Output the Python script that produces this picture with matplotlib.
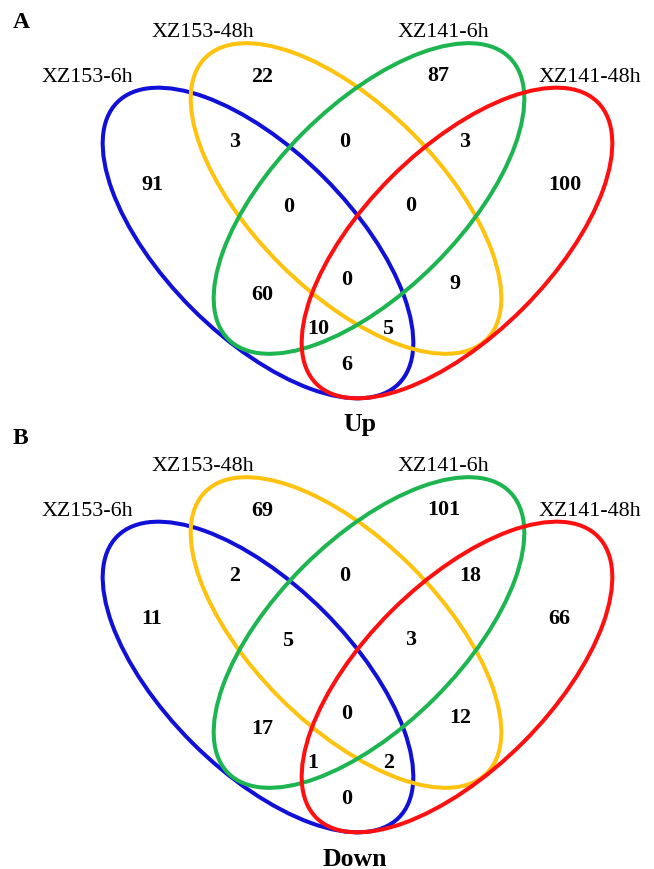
import matplotlib
matplotlib.use("Agg")
import matplotlib.pyplot as plt
from matplotlib.patches import Ellipse

# ---------------- data ----------------
set_labels = ["XZ153-6h", "XZ153-48h", "XZ141-6h", "XZ141-48h"]
set_colors = ["#1010d8", "#ffc20e", "#1db550", "#ff1010"]
panel_letters = ["A", "B"]
panel_titles = ["Up", "Down"]

# region order:
# S1, S2, S3, S4, S1&S2, S2&S3, S3&S4, S1&S2&S3, S2&S3&S4,
# S1&S3, all, S2&S4, S1&S3&S4, S1&S2&S4, S1&S4
up_counts = [91, 22, 87, 100, 3, 0, 3, 0, 0, 60, 0, 9, 10, 5, 6]
down_counts = [11, 69, 101, 66, 2, 0, 18, 5, 3, 17, 0, 12, 1, 2, 0]
panel_counts = [up_counts, down_counts]

# ---------------- layout (pixel coords, y down) ----------------
region_pos = [(141, 183), (251, 75), (427, 74), (548, 183),
              (229, 140), (339, 140), (459, 140),
              (283, 205), (405, 204),
              (251, 293), (341, 278), (449, 282),
              (307, 327), (383, 327), (341, 363)]
ell_centers = [(258, 244), (346, 199.5), (369, 199.5), (457, 244)]
ell_angles = [45, 45, -45, -45]
ell_w, ell_h = 398, 186
label_pos = [(42, 82), (152, 37), (398, 37), (539, 82)]
panel_offset = [0, 434]

fig = plt.figure(figsize=(6.54, 8.70), dpi=100)
ax = fig.add_axes([0, 0, 1, 1])
ax.set_xlim(0, 654)
ax.set_ylim(870, 0)
ax.axis("off")

serif = ["Liberation Serif", "DejaVu Serif"]

for p in range(2):
    dy = panel_offset[p]
    for (cx, cy), ang, col in zip(ell_centers, ell_angles, set_colors):
        ax.add_patch(Ellipse((cx, cy + dy), ell_w, ell_h, angle=ang,
                             fill=False, edgecolor=col, linewidth=2.9))
    for (x, y), v in zip(region_pos, panel_counts[p]):
        ax.text(x, y + dy + 7, str(v), ha="left", va="baseline",
                fontsize=15.8, fontweight="bold", family=serif)
    for (x, y), lab in zip(label_pos, set_labels):
        ax.text(x, y + dy, lab, ha="left", va="baseline",
                fontsize=15.8, family=serif)
    ax.text(13, 28 + [0, 416][p], panel_letters[p], ha="left", va="baseline",
            fontsize=17, fontweight="bold", family=serif)
    ax.text([360, 355][p], [431, 866][p], panel_titles[p], ha="center",
            va="baseline", fontsize=18.5, fontweight="bold", family=serif)

fig.savefig("out.png", dpi=100)
